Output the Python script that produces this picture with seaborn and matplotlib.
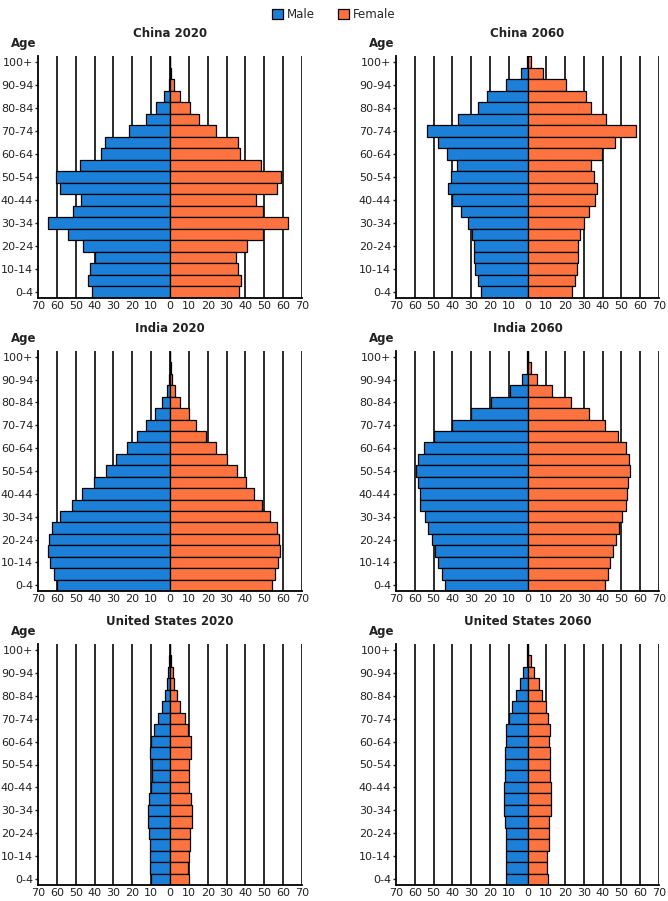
import numpy as np
import pandas as pd
import matplotlib
matplotlib.use("Agg")
import matplotlib.pyplot as plt
from matplotlib.patches import Patch
import seaborn as sns

ages = ["0-4", "5-9", "10-14", "15-19", "20-24", "25-29", "30-34", "35-39",
        "40-44", "45-49", "50-54", "55-59", "60-64", "65-69", "70-74", "75-79",
        "80-84", "85-89", "90-94", "95-99", "100+"]

titles = ["China 2020", "China 2060", "India 2020", "India 2060",
          "United States 2020", "United States 2060"]

china2020_male = [41.1, 43.4, 42.4, 39.9, 46.1, 53.9, 64.7, 51.4, 47.2, 58.3, 60.3,
                  47.7, 36.7, 34.4, 21.6, 12.9, 7.3, 3.2, 0.6, 0.2, 0.05]
china2020_female = [36.5, 37.6, 36.2, 34.8, 40.8, 49.1, 62.8, 49.1, 45.7, 56.6, 58.9,
                    48.0, 36.9, 36.3, 24.3, 15.6, 10.6, 5.5, 2.0, 0.4, 0.1]

china2060_male = [24.6, 26.6, 28.2, 28.7, 28.7, 29.6, 31.9, 35.5, 40.1, 42.2, 40.8,
                  37.6, 42.6, 47.9, 53.5, 37.2, 26.6, 21.3, 11.5, 3.2, 0.5]
china2060_female = [23.6, 25.2, 26.6, 27.1, 27.1, 27.8, 30.1, 32.8, 36.0, 37.2, 35.5,
                    33.7, 39.4, 46.5, 57.6, 41.7, 33.7, 31.4, 20.7, 8.3, 2.1]

india2020_male = [59.8, 61.5, 63.8, 64.7, 64.2, 62.8, 58.2, 52.1, 46.6, 40.2, 34.2,
                  28.4, 22.7, 17.7, 12.8, 8.0, 4.1, 1.6, 0.5, 0.1, 0.05]
india2020_female = [54.1, 55.7, 57.3, 58.2, 57.8, 56.7, 53.2, 48.8, 44.3, 40.2, 35.5,
                    30.0, 24.3, 19.0, 14.0, 9.9, 5.5, 2.5, 1.0, 0.4, 0.1]

india2060_male = [44.0, 45.7, 47.5, 49.3, 50.9, 52.7, 54.6, 57.1, 57.1, 58.5, 59.4,
                  58.2, 55.3, 49.6, 40.4, 30.0, 19.3, 9.4, 2.7, 0.4, 0.1]
india2060_female = [41.1, 42.6, 44.1, 45.4, 47.0, 48.8, 50.2, 52.3, 52.8, 53.7, 54.6,
                    54.1, 52.3, 48.4, 41.5, 32.6, 22.9, 12.9, 5.1, 1.6, 0.3]

us2020_male = [10.3, 10.5, 10.5, 10.6, 11.2, 11.9, 11.5, 11.0, 10.1, 9.8, 9.8,
               10.6, 9.9, 8.5, 6.6, 4.4, 2.8, 1.8, 1.1, 0.3, 0.05]
us2020_female = [10.1, 9.8, 10.3, 10.5, 10.8, 11.9, 11.5, 11.0, 10.1, 10.1, 10.3,
                 11.3, 11.2, 9.8, 8.0, 5.5, 3.7, 2.3, 1.4, 0.6, 0.1]

us2060_male = [11.2, 11.2, 11.2, 11.3, 11.7, 12.1, 12.6, 12.6, 12.6, 12.2, 12.2,
               11.9, 11.5, 11.3, 9.8, 8.3, 6.0, 3.9, 2.3, 0.5, 0.1]
us2060_female = [11.0, 10.6, 10.6, 11.2, 11.2, 11.7, 12.4, 12.6, 12.4, 12.1, 12.1,
                 12.1, 11.7, 11.9, 10.8, 9.6, 7.8, 5.9, 3.7, 2.0, 0.4]

panels = [
    (china2020_male, china2020_female),
    (china2060_male, china2060_female),
    (india2020_male, india2020_female),
    (india2060_male, india2060_female),
    (us2020_male, us2020_female),
    (us2060_male, us2060_female),
]

sexes = ["Male", "Female"]
colors = {"Male": "#1C80D8", "Female": "#FF7340"}
ticks = list(range(-70, 71, 10))

sns.set_theme(style="white")
plt.rcParams["font.family"] = ["DejaVu Sans"]

fig = plt.figure(figsize=(6.68, 9.01), dpi=100)

W, H = 668.0, 901.0
col_x = [(38, 302), (396, 659)]
row_y = [(56, 298), (351, 591), (644, 885)]

order = ages[::-1]  # 100+ at top

for i, (title, (male, female)) in enumerate(zip(titles, panels)):
    r, c = divmod(i, 2)
    x0, x1 = col_x[c]
    y0, y1 = row_y[r]
    ax = fig.add_axes([x0 / W, 1 - y1 / H, (x1 - x0) / W, (y1 - y0) / H])

    df = pd.DataFrame({
        "age": ages * 2,
        "sex": ["Male"] * len(ages) + ["Female"] * len(ages),
        "value": [-v for v in male] + list(female),
    })

    for t in ticks[1:]:
        ax.axvline(t, color="#1a1a1a", lw=1.3, zorder=0)

    sns.barplot(data=df, x="value", y="age", hue="sex", order=order,
                hue_order=sexes, palette=colors, saturation=1, dodge=False, width=1.0,
                edgecolor="black", linewidth=0.9, orient="h", errorbar=None,
                legend=False, ax=ax, zorder=2)

    ax.set_xlim(-70, 70)
    ax.set_ylim(20.5, -0.5)
    ax.set_xticks(ticks)
    ax.set_xticklabels([str(abs(t)) for t in ticks])
    ax.set_yticks(range(0, 21, 2))
    ax.set_yticklabels(order[::2])
    ax.set_xlabel("")
    ax.set_ylabel("")
    for s in ["top", "right"]:
        ax.spines[s].set_visible(False)
    for s in ["left", "bottom"]:
        ax.spines[s].set_color("black")
        ax.spines[s].set_linewidth(1.3)
    ax.tick_params(axis="x", length=0, pad=2, labelsize=8, colors="#222")
    ax.tick_params(axis="y", length=2, width=1, pad=1.5, labelsize=8, colors="#222", left=True)
    ax.set_title(title, fontsize=8.5, fontweight="bold", pad=14, color="#222")
    ax.text(-0.005, 1.025, "Age", transform=ax.transAxes, ha="right", va="bottom",
            fontsize=8.5, fontweight="bold", color="#222")

handles = [Patch(facecolor=colors[s], edgecolor="black", linewidth=0.9, label=s) for s in sexes]
fig.legend(handles=handles, loc="upper center", bbox_to_anchor=(0.5, 1.003), ncol=2,
           frameon=False, fontsize=8.5, handlelength=0.9, handleheight=0.9,
           handletextpad=0.35, columnspacing=2.0)

fig.savefig("out.png", dpi=100, facecolor="white")
